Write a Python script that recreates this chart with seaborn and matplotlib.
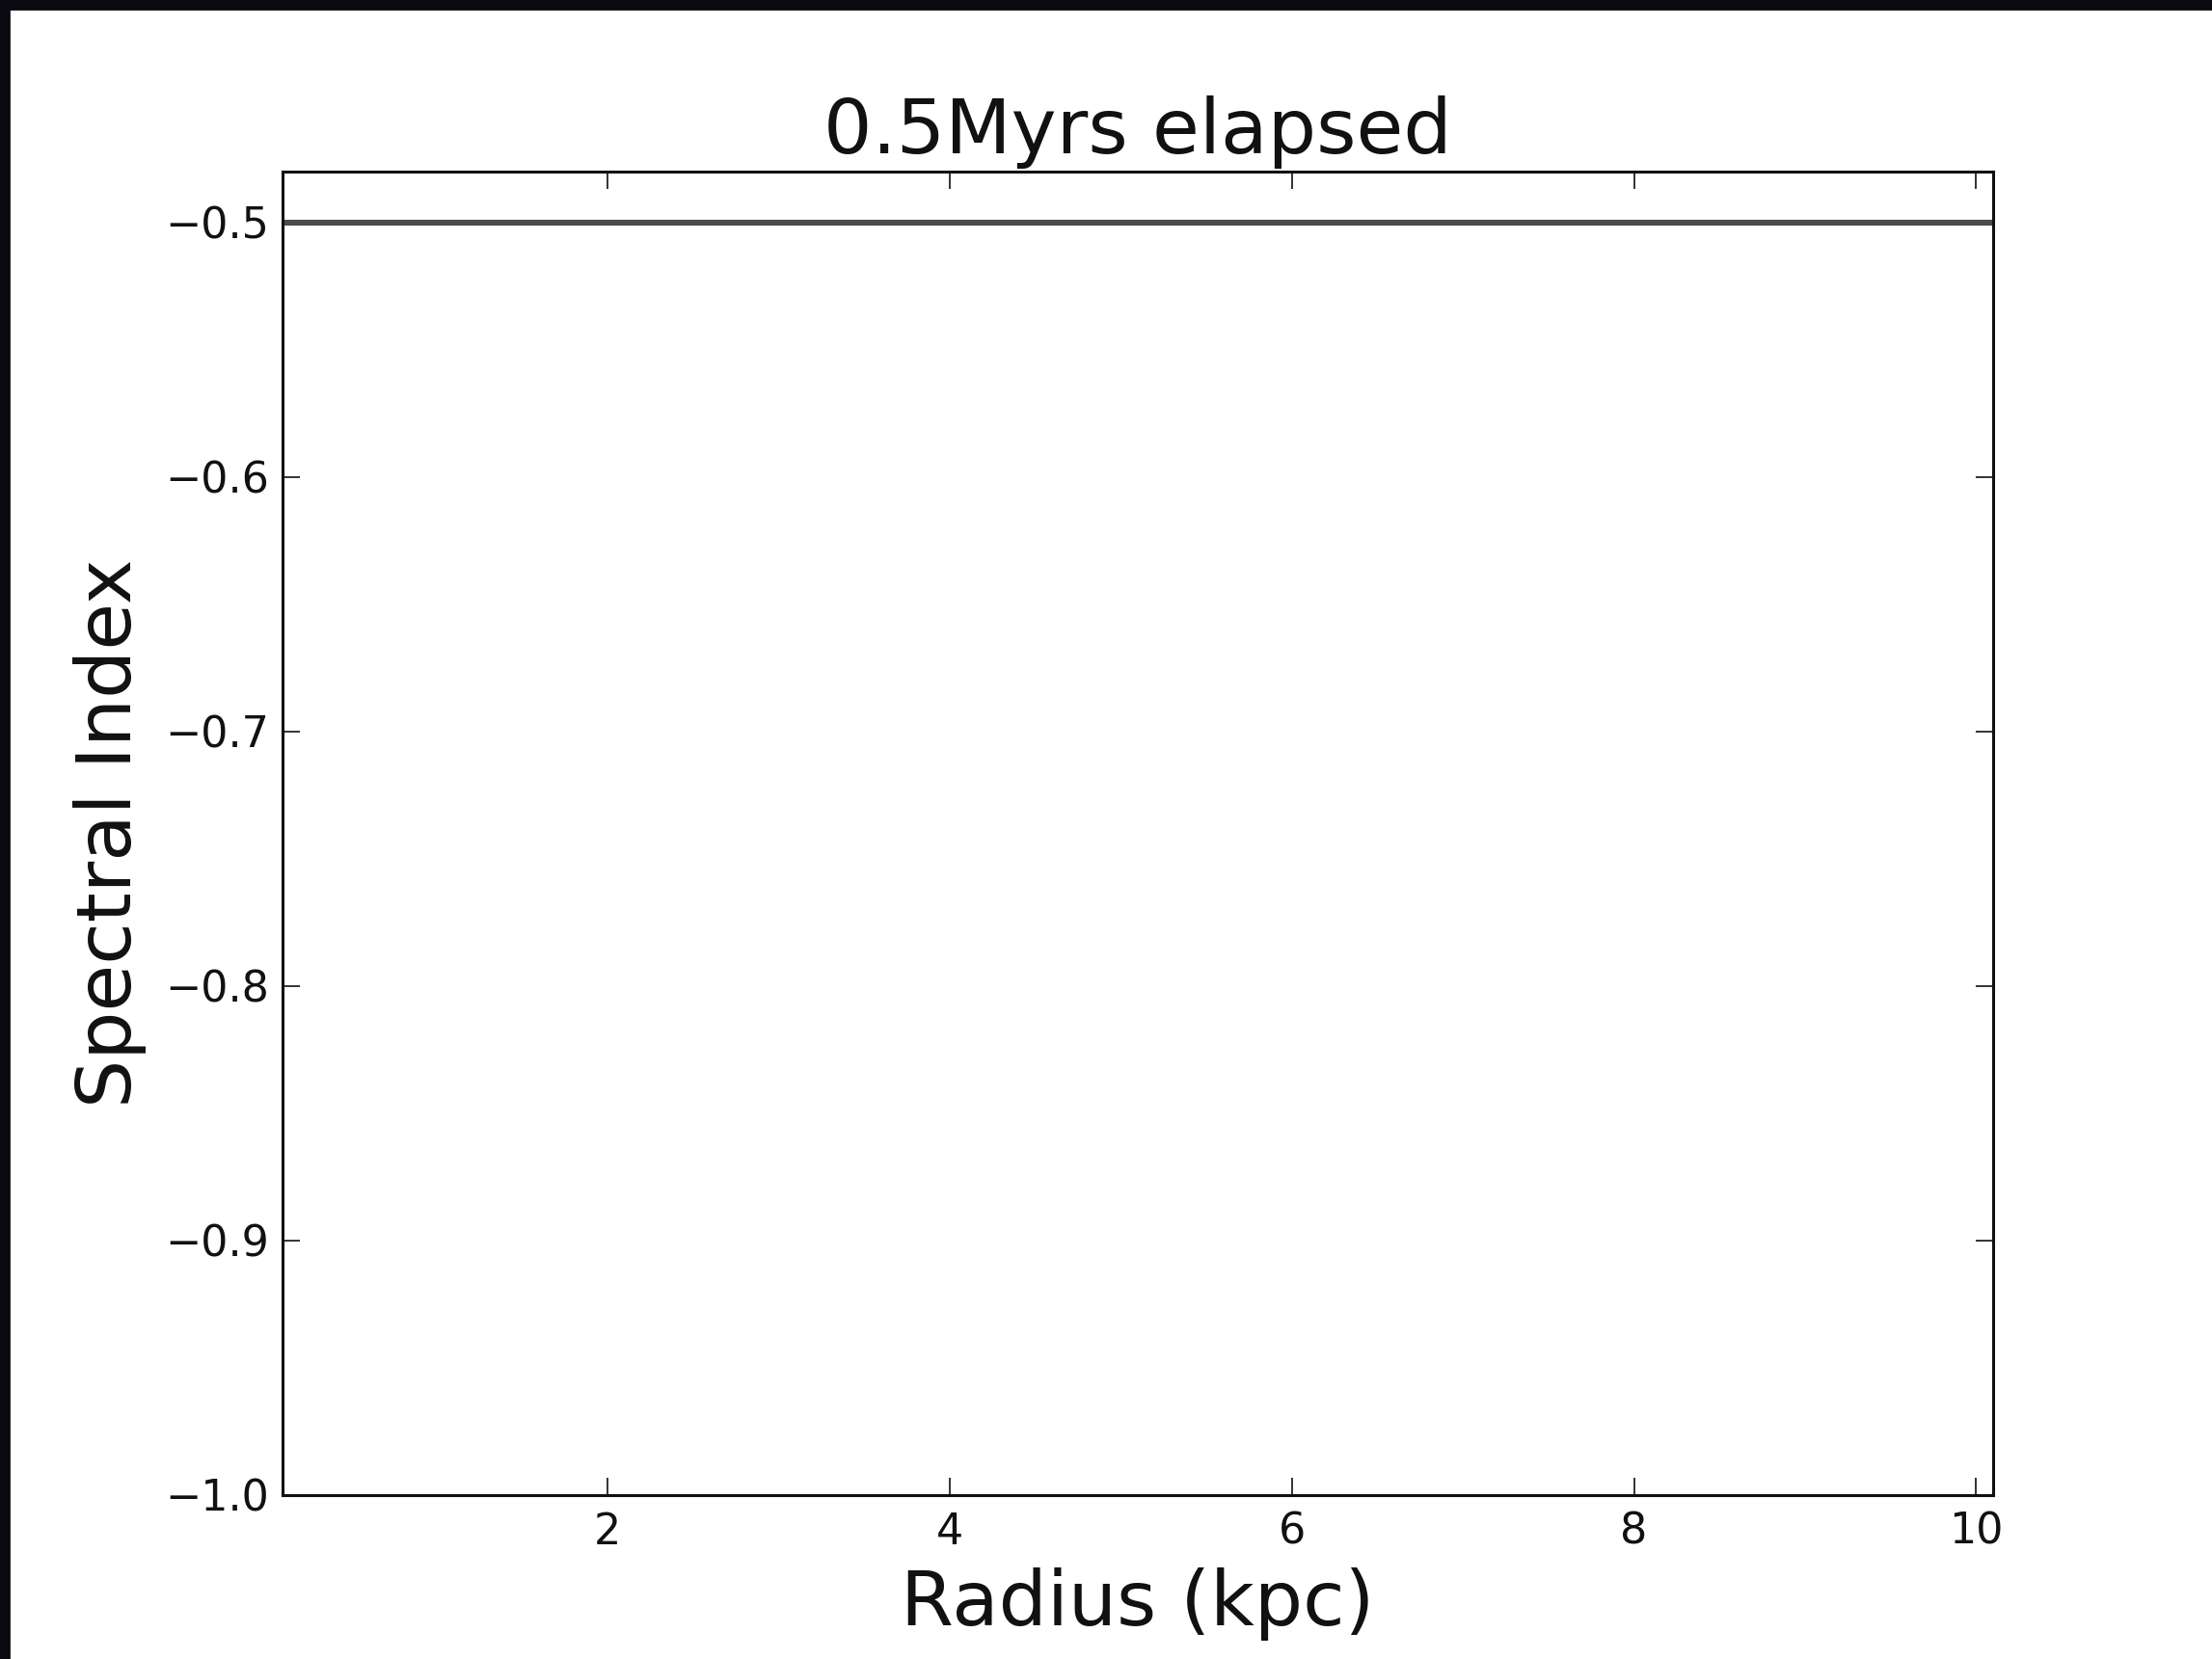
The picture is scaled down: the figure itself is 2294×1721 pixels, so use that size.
import seaborn as sns
import matplotlib.pyplot as plt
from matplotlib.patches import Rectangle
import pandas as pd

# Spectral index profile at 0.5 Myr
radius = [0.1, 1, 2, 3, 4, 5, 6, 7, 8, 9, 10, 10.1]
spectral_index = [-0.5, -0.5, -0.5, -0.5, -0.5, -0.5, -0.5, -0.5, -0.5, -0.5, -0.5, -0.5]
x_ticks = [2, 4, 6, 8, 10]
y_ticks = [-1.0, -0.9, -0.8, -0.7, -0.6, -0.5]

df = pd.DataFrame({'Radius': radius, 'SpectralIndex': spectral_index})

sns.set_style('ticks')
plt.rcParams['font.family'] = ['DejaVu Sans']
plt.rcParams['text.color'] = '#111111'
plt.rcParams['axes.labelcolor'] = '#111111'

fig = plt.figure(figsize=(11.47, 8.605), dpi=200)
ax = fig.add_axes([0.1277, 0.0988, 0.7734, 0.7978])

sns.lineplot(x='Radius', y='SpectralIndex', data=df, ax=ax, color='#4a4a4a', lw=2.2)

ax.set_xlim(0.1, 10.1)
ax.set_ylim(-1.0, -0.48)
ax.set_xticks(x_ticks)
ax.set_yticks(y_ticks)
ax.set_yticklabels(['\u22121.0', '\u22120.9', '\u22120.8', '\u22120.7', '\u22120.6', '\u22120.5'])

ax.tick_params(direction='in', top=True, right=True, length=6.5, width=0.6,
               labelsize=16, colors='#111111')
ax.tick_params(axis='x', pad=6)
ax.tick_params(axis='y', pad=5)
for s in ax.spines.values():
    s.set_linewidth(1.1)
    s.set_color('#111111')

ax.set_title('0.5Myrs elapsed', fontsize=28.6, pad=7)
ax.set_xlabel('Radius (kpc)', fontsize=28.5, labelpad=5.5)
ax.set_ylabel('Spectral Index', fontsize=28.5, labelpad=7)

# dark frame along the top and left edges
fig.add_artist(Rectangle((0, 1 - 9 / 1721), 1, 9 / 1721, transform=fig.transFigure, color='#0b0a10'))
fig.add_artist(Rectangle((0, 0), 9 / 2294, 1, transform=fig.transFigure, color='#0b0a10'))

fig.savefig('out.png', dpi=200)
